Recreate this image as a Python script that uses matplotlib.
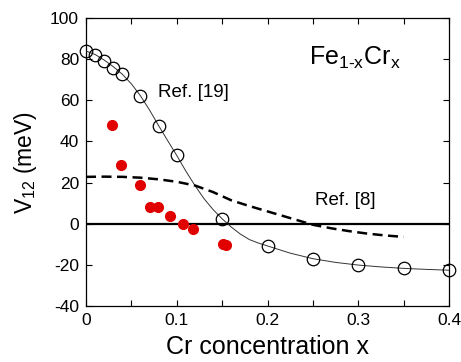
import matplotlib
matplotlib.use("Agg")
import matplotlib.pyplot as plt
from matplotlib.ticker import MultipleLocator, FuncFormatter

plt.rcParams['font.family'] = ['Liberation Sans', 'DejaVu Sans']
plt.rcParams['mathtext.fontset'] = 'custom'
plt.rcParams['mathtext.rm'] = 'Liberation Sans'
plt.rcParams['mathtext.it'] = 'Liberation Sans'

# Ref. [19] open circles
circ_x = [0.0, 0.01, 0.02, 0.03, 0.04, 0.06, 0.08, 0.10, 0.15, 0.20, 0.25, 0.30, 0.35, 0.40]
circ_y = [84.0, 82.0, 79.0, 75.7, 72.8, 62.0, 47.5, 33.4, 2.4, -10.7, -17.2, -20.2, -21.7, -22.5]

# thin fitted curve through Ref. [19]
fit_x = [0.0, 0.01, 0.02, 0.03, 0.04, 0.05, 0.06, 0.07, 0.08, 0.09, 0.10, 0.11, 0.12, 0.13,
         0.14, 0.15, 0.16, 0.17, 0.18, 0.19, 0.20, 0.225, 0.25, 0.275, 0.30, 0.325, 0.35, 0.375, 0.40]
fit_y = [84.0, 82.3, 79.6, 76.4, 72.7, 68.0, 62.2, 55.3, 47.7, 40.4, 33.2, 25.6, 18.6, 12.2,
         6.9, 2.4, -1.6, -5.0, -7.7, -9.4, -10.8, -14.3, -17.0, -18.8, -20.1, -21.0, -21.7, -22.2, -22.6]

# Ref. [8] dashed curve
dash_x = [0.0, 0.02, 0.04, 0.06, 0.08, 0.10, 0.12, 0.14, 0.16, 0.18, 0.20, 0.22, 0.24, 0.25,
          0.27, 0.29, 0.31, 0.33, 0.35]
dash_y = [22.8, 22.9, 22.8, 22.4, 21.6, 20.4, 18.6, 15.4, 11.4, 8.6, 6.0, 3.4, 0.8, -0.5,
          -2.2, -3.6, -4.8, -5.7, -6.4]

# red filled dots
red_x = [0.029, 0.039, 0.059, 0.0705, 0.079, 0.093, 0.1065, 0.118, 0.151, 0.154]
red_y = [48.0, 28.7, 19.0, 8.3, 8.0, 4.0, 0.0, -2.4, -9.9, -10.2]

fig = plt.figure(figsize=(4.61, 3.62), dpi=100)
ax = fig.add_axes([0.1866, 0.1547, 0.7874, 0.7953])

ax.plot([0, 0.4], [0, 0], color='black', lw=1.6, zorder=2)
ax.plot(fit_x, fit_y, color='#333333', lw=0.7, zorder=3)
ax.plot(dash_x, dash_y, color='black', lw=1.8, dashes=(4, 2.2), zorder=3)
ax.plot(circ_x, circ_y, linestyle='none', marker='o', ms=9, mfc='none',
        mec='black', mew=0.9, zorder=4, clip_on=False)
ax.plot(red_x, red_y, linestyle='none', marker='o', ms=7, mfc='#e00000',
        mec='#e00000', zorder=5)

ax.set_xlim(0, 0.4)
ax.set_ylim(-40, 100)
ax.xaxis.set_major_locator(MultipleLocator(0.1))
ax.xaxis.set_minor_locator(MultipleLocator(0.05))
ax.yaxis.set_major_locator(MultipleLocator(20))
ax.xaxis.set_major_formatter(FuncFormatter(lambda v, p: '0' if abs(v) < 1e-9 else f'{v:.1f}'))
ax.yaxis.set_major_formatter(FuncFormatter(lambda v, p: f'{int(round(v))}'))
ax.tick_params(which='both', direction='in', top=True, right=True, length=4.5, width=0.8,
               labelsize=12.5, pad=5)
for s in ax.spines.values():
    s.set_linewidth(0.9)

ax.set_xlabel('Cr concentration x', fontsize=18, labelpad=5)
ax.set_ylabel(r'V$_{12}$ (meV)', fontsize=16.5, labelpad=8)

ax.text(0.079, 64.0, 'Ref. [19]', fontsize=13.5, va='center', ha='left')
ax.text(0.252, 11.5, 'Ref. [8]', fontsize=13.5, va='center', ha='left')
ax.text(0.246, 80.5, r'Fe$_{1\text{-}\mathrm{x}}$Cr$_\mathrm{x}$', fontsize=18, va='center', ha='left')

fig.savefig('out.png', dpi=100)
